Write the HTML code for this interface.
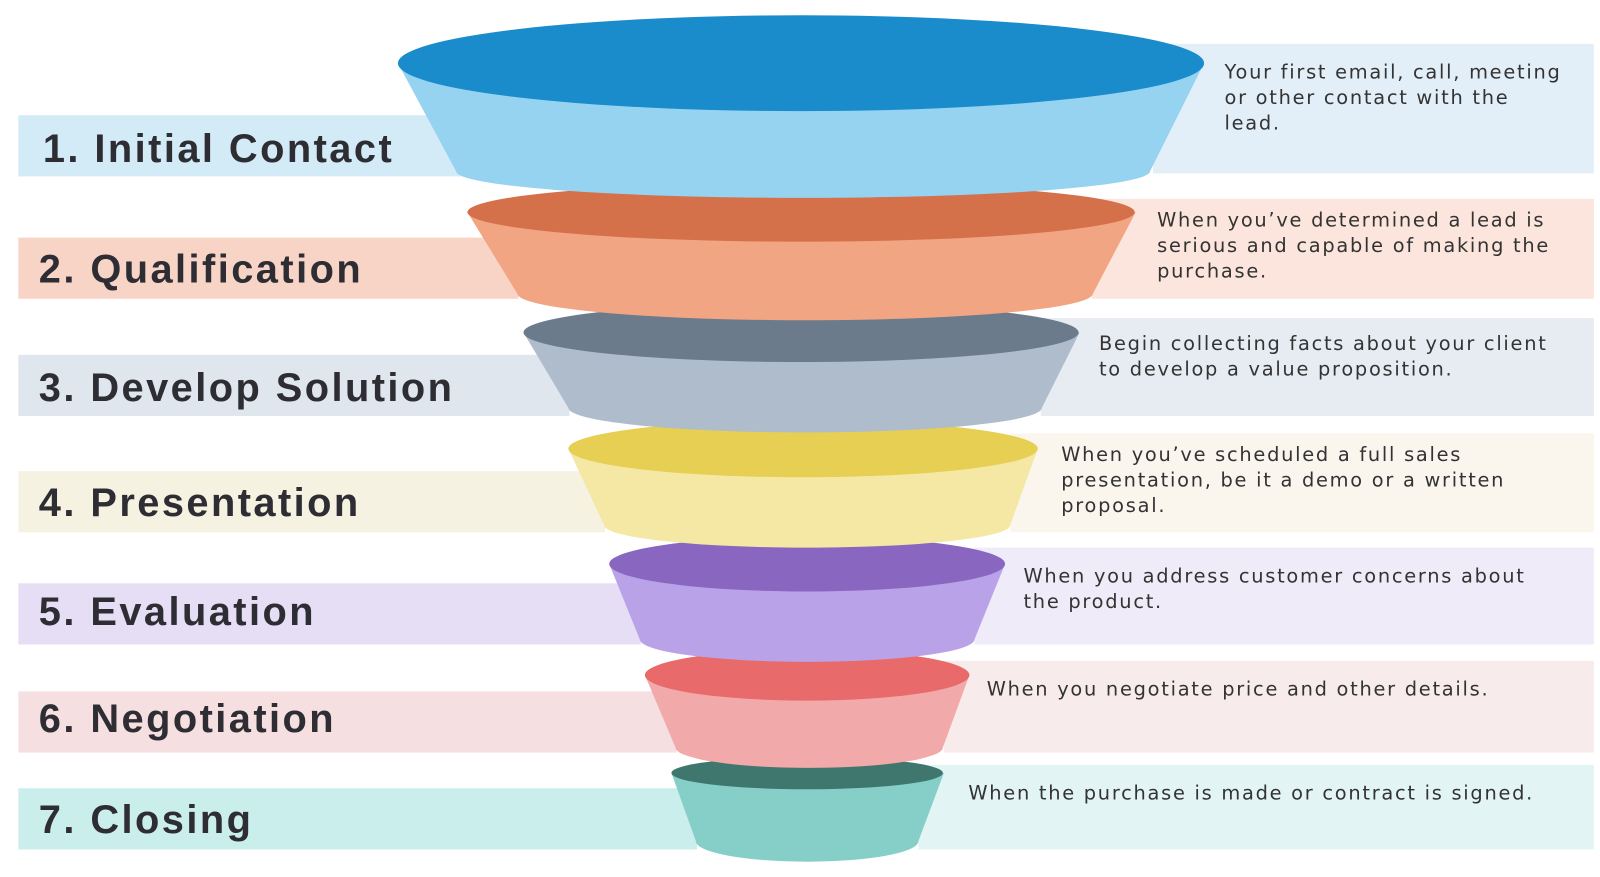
<!DOCTYPE html>
<html><head><meta charset="utf-8"><style>
html,body{margin:0;padding:0;background:#fff;width:1600px;height:877px;overflow:hidden}
svg{display:block}
.l{font-family:"Liberation Sans",sans-serif;font-weight:bold;font-size:39px;fill:#2d2d33;letter-spacing:2.4px}
.r{font-family:"DejaVu Sans","Liberation Sans",sans-serif;font-size:19px;fill:#333;letter-spacing:1.7px}
</style></head><body>
<svg width="1600" height="877" viewBox="0 0 1568 860" preserveAspectRatio="none" xmlns="http://www.w3.org/2000/svg">
<rect x="18" y="113" width="440" height="60" fill="#d3eaf7"/>
<rect x="1130" y="43" width="432" height="127" fill="#e3eff8"/>
<rect x="18" y="233" width="490" height="60" fill="#f8d4c6"/>
<rect x="1070" y="195" width="492" height="98" fill="#fbe5dc"/>
<rect x="18" y="348" width="540" height="60" fill="#dfe6ee"/>
<rect x="1020" y="312" width="542" height="96" fill="#e7ecf3"/>
<rect x="18" y="462" width="575" height="60" fill="#f6f2e2"/>
<rect x="990" y="425" width="572" height="97" fill="#faf6ee"/>
<rect x="18" y="572" width="610" height="60" fill="#e6def5"/>
<rect x="955" y="537" width="607" height="95" fill="#efebf8"/>
<rect x="18" y="678" width="645" height="60" fill="#f5dfe0"/>
<rect x="925" y="648" width="637" height="90" fill="#f8ebec"/>
<rect x="18" y="773" width="665" height="60" fill="#c9eeec"/>
<rect x="900" y="750" width="662" height="83" fill="#e2f5f4"/>

<path d="M658 758 L682 825 A109 20 0 0 0 900 825 L925 758 Z" fill="#86cfc8"/>
<ellipse cx="791" cy="758" rx="133" ry="16" fill="#3f776e"/>
<path d="M632 662 L662 733 A131 20 0 0 0 924 733 L950 662 Z" fill="#f1a9a9"/>
<ellipse cx="791" cy="662" rx="159" ry="25" fill="#e86a6a"/>
<path d="M597 553 L627 627 A164 22 0 0 0 955 627 L985 553 Z" fill="#b9a2e8"/>
<ellipse cx="791" cy="553" rx="194" ry="27" fill="#8966c0"/>
<path d="M557 440 L592 515 A199 22 0 0 0 990 515 L1017 440 Z" fill="#f5e8a5"/>
<ellipse cx="787" cy="440" rx="230" ry="28" fill="#e6cf52"/>
<path d="M513 326 L557 400 A232 24 0 0 0 1021 400 L1058 326 Z" fill="#aebccc"/>
<ellipse cx="785" cy="326" rx="272" ry="29" fill="#6b7b8b"/>
<path d="M458 208 L507 288 A282 26 0 0 0 1071 288 L1113 208 Z" fill="#f2a582"/>
<ellipse cx="785" cy="208" rx="327" ry="29" fill="#d4714a"/>
<path d="M390 62 L447 168 A340 26 0 0 0 1127 168 L1180 62 Z" fill="#96d3f0"/>
<ellipse cx="785" cy="62" rx="395" ry="47" fill="#1a8ccc"/>

<text class="l" x="42" y="159">1. Initial Contact</text>
<text class="l" x="38" y="277">2. Qualification</text>
<text class="l" x="38" y="393">3. Develop Solution</text>
<text class="l" x="38" y="506">4. Presentation</text>
<text class="l" x="38" y="613">5. Evaluation</text>
<text class="l" x="38" y="718">6. Negotiation</text>
<text class="l" x="38" y="817">7. Closing</text>

<text class="r" x="1200" y="77">Your first email, call, meeting</text>
<text class="r" x="1200" y="102">or other contact with the</text>
<text class="r" x="1200" y="127">lead.</text>
<text class="r" x="1134" y="222">When you’ve determined a lead is</text>
<text class="r" x="1134" y="247">serious and capable of making the</text>
<text class="r" x="1134" y="272">purchase.</text>
<text class="r" x="1077" y="343">Begin collecting facts about your client</text>
<text class="r" x="1077" y="368">to develop a value proposition.</text>
<text class="r" x="1040" y="452">When you’ve scheduled a full sales</text>
<text class="r" x="1040" y="477">presentation, be it a demo or a written</text>
<text class="r" x="1040" y="502">proposal.</text>
<text class="r" x="1003" y="571">When you address customer concerns about</text>
<text class="r" x="1003" y="596">the product.</text>
<text class="r" x="967" y="682">When you negotiate price and other details.</text>
<text class="r" x="949" y="784">When the purchase is made or contract is signed.</text>
</svg>
</body></html>
